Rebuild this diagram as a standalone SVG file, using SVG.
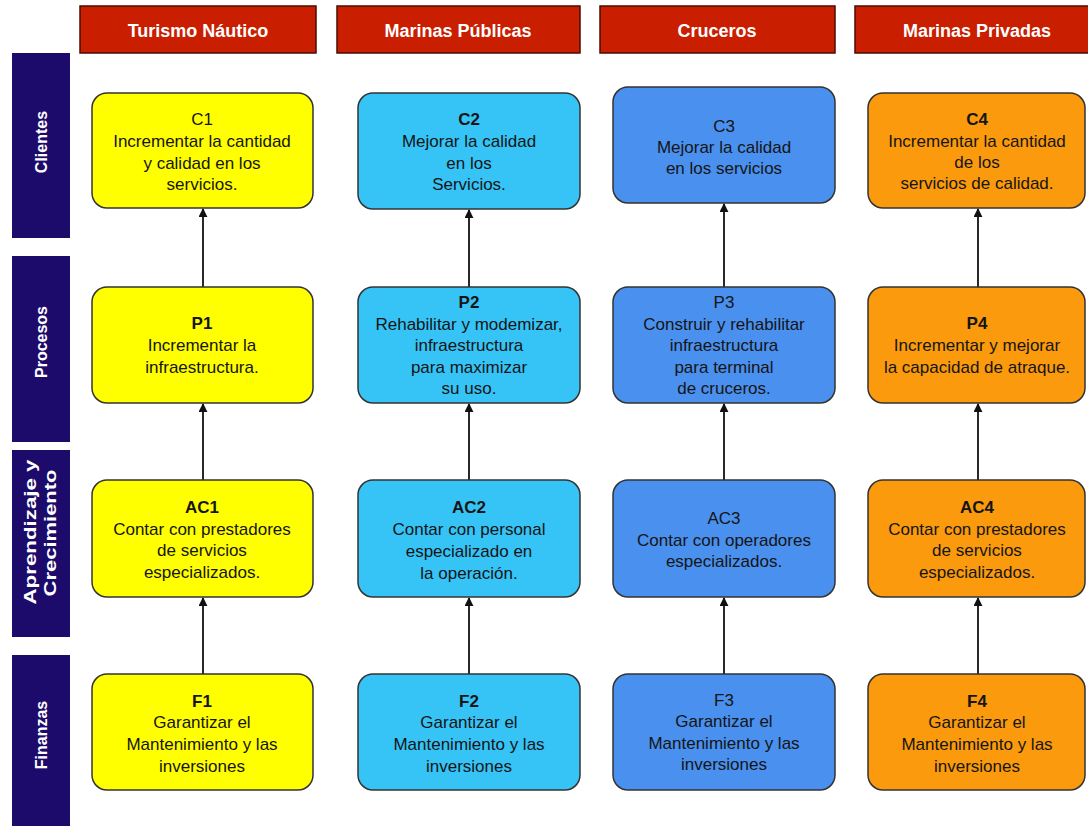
<svg xmlns="http://www.w3.org/2000/svg" width="1088" height="826" viewBox="0 0 1088 826">
<style>
.hdr{fill:#c91e00;stroke:#4a0d00;stroke-width:1.5}
.hdrt{font-family:"Liberation Sans",Arial,sans-serif;font-size:18px;font-weight:bold;fill:#fff;text-anchor:middle}
.side{fill:#1c0b6b}
.sidet{font-family:"Liberation Sans",Arial,sans-serif;font-size:16px;font-weight:bold;fill:#fff;text-anchor:middle}
.box{stroke:#333;stroke-width:1.5}
.y{fill:#ffff00}.lb{fill:#36c4f7}.b{fill:#4a90ee}.o{fill:#fa9a0c}
.t{font-family:"Liberation Sans",Arial,sans-serif;font-size:17px;fill:#151515;text-anchor:middle}
.bt{font-weight:bold}
.conn line{stroke:#111;stroke-width:1.8;marker-end:url(#ah)}
</style>
<defs>
<marker id="ah" viewBox="0 0 10 10" refX="9" refY="5" markerWidth="5" markerHeight="5" orient="auto" markerUnits="strokeWidth">
<path d="M0,0 L10,5 L0,10 z" fill="#111"/>
</marker>
</defs>
<rect width="1088" height="826" fill="#fff"/>

<g id="headers">
<g id="h1"><rect class="hdr" x="80" y="6" width="236" height="47"/><text class="hdrt" x="198" y="37">Turismo Náutico</text></g>
<g id="h2"><rect class="hdr" x="337" y="6" width="243" height="47"/><text class="hdrt" x="458" y="37">Marinas Públicas</text></g>
<g id="h3"><rect class="hdr" x="600" y="6" width="235" height="47"/><text class="hdrt" x="717" y="37">Cruceros</text></g>
<g id="h4"><rect class="hdr" x="855" y="6" width="245" height="47"/><text class="hdrt" x="977" y="37">Marinas Privadas</text></g>
</g>

<g id="sides">
<g id="s1"><rect class="side" x="12" y="53" width="58" height="185"/><text class="sidet" transform="translate(47,142) rotate(-90)">Clientes</text></g>
<g id="s2"><rect class="side" x="12" y="256" width="58" height="186"/><text class="sidet" transform="translate(47,342) rotate(-90)">Procesos</text></g>
<g id="s3"><rect class="side" x="12" y="450" width="58" height="187"/><text class="sidet" transform="translate(36,532) rotate(-90)" textLength="145" lengthAdjust="spacingAndGlyphs">Aprendizaje y</text><text class="sidet" transform="translate(56,533) rotate(-90)" textLength="127" lengthAdjust="spacingAndGlyphs">Crecimiento</text></g>
<g id="s4"><rect class="side" x="12" y="655" width="58" height="180"/><text class="sidet" transform="translate(47,735) rotate(-90)">Finanzas</text></g>
</g>

<g id="connectors" class="conn">
<line x1="203" y1="287" x2="203" y2="209"/>
<line x1="203" y1="480" x2="203" y2="404"/>
<line x1="203" y1="674" x2="203" y2="598"/>
<line x1="469" y1="287" x2="469" y2="210"/>
<line x1="469" y1="480" x2="469" y2="404"/>
<line x1="469" y1="674" x2="469" y2="598"/>
<line x1="724" y1="287" x2="724" y2="204"/>
<line x1="724" y1="480" x2="724" y2="404"/>
<line x1="724" y1="674" x2="724" y2="598"/>
<line x1="978" y1="287" x2="978" y2="209"/>
<line x1="978" y1="480" x2="978" y2="404"/>
<line x1="978" y1="674" x2="978" y2="598"/>
</g>

<g id="C1"><rect class="box y" x="92" y="93" width="221" height="115" rx="15"/>
<text class="t" x="202" y="125">C1</text><text class="t" x="202" y="147">Incrementar la cantidad</text><text class="t" x="202" y="169">y calidad en los</text><text class="t" x="202" y="190">servicios.</text></g>
<g id="C2"><rect class="box lb" x="358" y="93" width="222" height="116" rx="15"/>
<text class="t bt" x="469" y="125">C2</text><text class="t" x="469" y="147">Mejorar la calidad</text><text class="t" x="469" y="169">en los</text><text class="t" x="469" y="190">Servicios.</text></g>
<g id="C3"><rect class="box b" x="613" y="87" width="222" height="116" rx="15"/>
<text class="t" x="724" y="132">C3</text><text class="t" x="724" y="153">Mejorar la calidad</text><text class="t" x="724" y="174">en los servicios</text></g>
<g id="C4"><rect class="box o" x="868" y="93" width="217" height="115" rx="15"/>
<text class="t bt" x="977" y="125">C4</text><text class="t" x="977" y="147">Incrementar la cantidad</text><text class="t" x="977" y="168">de los</text><text class="t" x="977" y="189">servicios de calidad.</text></g>

<g id="P1"><rect class="box y" x="92" y="287" width="221" height="116" rx="15"/>
<text class="t bt" x="202" y="329">P1</text><text class="t" x="202" y="351">Incrementar la</text><text class="t" x="202" y="373">infraestructura.</text></g>
<g id="P2"><rect class="box lb" x="358" y="287" width="222" height="116" rx="15"/>
<text class="t bt" x="469" y="308">P2</text><text class="t" x="469" y="330">Rehabilitar y modemizar,</text><text class="t" x="469" y="351">infraestructura</text><text class="t" x="469" y="373">para maximizar</text><text class="t" x="469" y="394">su uso.</text></g>
<g id="P3"><rect class="box b" x="613" y="287" width="222" height="116" rx="15"/>
<text class="t" x="724" y="308">P3</text><text class="t" x="724" y="330">Construir y rehabilitar</text><text class="t" x="724" y="351">infraestructura</text><text class="t" x="724" y="373">para terminal</text><text class="t" x="724" y="394">de cruceros.</text></g>
<g id="P4"><rect class="box o" x="868" y="287" width="217" height="116" rx="15"/>
<text class="t bt" x="977" y="329">P4</text><text class="t" x="977" y="351">Incrementar y mejorar</text><text class="t" x="977" y="373">la capacidad de atraque.</text></g>

<g id="AC1"><rect class="box y" x="92" y="480" width="221" height="117" rx="15"/>
<text class="t bt" x="202" y="513">AC1</text><text class="t" x="202" y="535">Contar con prestadores</text><text class="t" x="202" y="556">de servicios</text><text class="t" x="202" y="578">especializados.</text></g>
<g id="AC2"><rect class="box lb" x="358" y="480" width="222" height="117" rx="15"/>
<text class="t bt" x="469" y="513">AC2</text><text class="t" x="469" y="535">Contar con personal</text><text class="t" x="469" y="557">especializado en</text><text class="t" x="469" y="579">la operación.</text></g>
<g id="AC3"><rect class="box b" x="613" y="480" width="222" height="117" rx="15"/>
<text class="t" x="724" y="524">AC3</text><text class="t" x="724" y="546">Contar con operadores</text><text class="t" x="724" y="567">especializados.</text></g>
<g id="AC4"><rect class="box o" x="868" y="480" width="217" height="117" rx="15"/>
<text class="t bt" x="977" y="513">AC4</text><text class="t" x="977" y="535">Contar con prestadores</text><text class="t" x="977" y="556">de servicios</text><text class="t" x="977" y="578">especializados.</text></g>

<g id="F1"><rect class="box y" x="92" y="674" width="221" height="116" rx="15"/>
<text class="t bt" x="202" y="707">F1</text><text class="t" x="202" y="728">Garantizar el</text><text class="t" x="202" y="750">Mantenimiento y las</text><text class="t" x="202" y="772">inversiones</text></g>
<g id="F2"><rect class="box lb" x="358" y="674" width="222" height="116" rx="15"/>
<text class="t bt" x="469" y="707">F2</text><text class="t" x="469" y="728">Garantizar el</text><text class="t" x="469" y="750">Mantenimiento y las</text><text class="t" x="469" y="772">inversiones</text></g>
<g id="F3"><rect class="box b" x="613" y="674" width="222" height="116" rx="15"/>
<text class="t" x="724" y="706">F3</text><text class="t" x="724" y="727">Garantizar el</text><text class="t" x="724" y="749">Mantenimiento y las</text><text class="t" x="724" y="770">inversiones</text></g>
<g id="F4"><rect class="box o" x="868" y="674" width="217" height="116" rx="15"/>
<text class="t bt" x="977" y="707">F4</text><text class="t" x="977" y="728">Garantizar el</text><text class="t" x="977" y="750">Mantenimiento y las</text><text class="t" x="977" y="772">inversiones</text></g>
</svg>
